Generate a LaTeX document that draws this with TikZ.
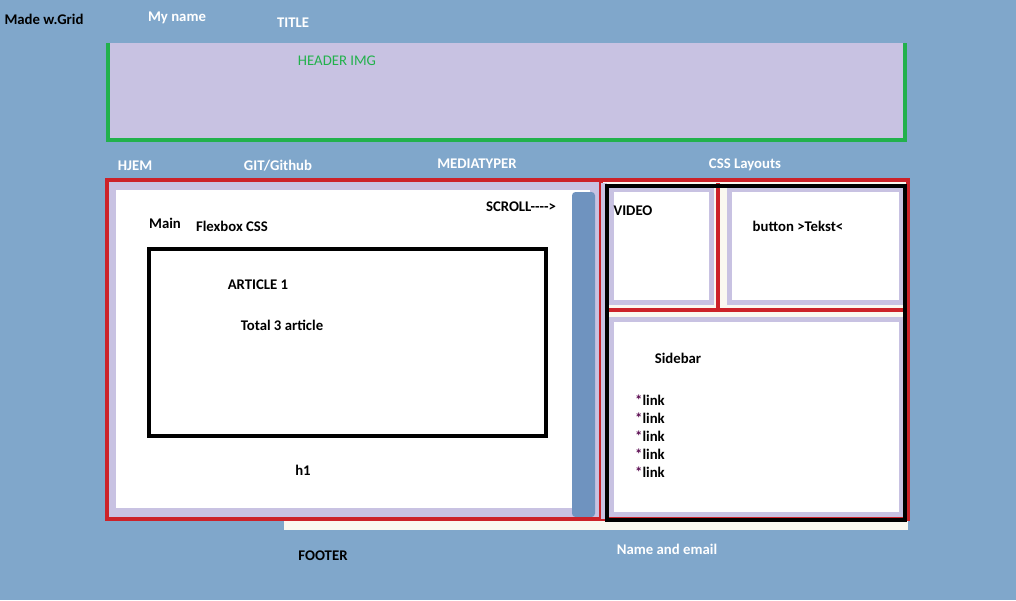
\documentclass[tikz,border=0pt]{standalone}
\usepackage{fontspec}
\setmainfont{Carlito}
\definecolor{pageblue}{RGB}{128,167,203}
\definecolor{lav}{RGB}{200,194,226}
\definecolor{hdrgreen}{RGB}{34,177,76}
\definecolor{mockred}{RGB}{204,34,41}
\definecolor{scrollblue}{RGB}{111,147,191}
\definecolor{offwhite}{RGB}{250,248,240}
\definecolor{starpurple}{RGB}{90,10,80}
\begin{document}
\begin{tikzpicture}[x=0.02cm, y=-0.02cm, font=\fontsize{8.4}{10}\selectfont\bfseries]
    \tikzset{txt/.style={inner sep=0pt},
             wtxt/.style={txt, text=white},
             pane/.style={fill=white, draw=lav, line width=2.8pt},
             redline/.style={draw=mockred, line width=2pt}}
    % page
    \fill[pageblue] (0,0) rectangle (1016,600);
    \node[txt] (made) at (44,19) {Made w.Grid};
    \node[wtxt] (myname) at (177,18) {My name};
    \node[wtxt] (title) at (293,23) {TITLE};
    % header
    \fill[lav] (108,43) rectangle (906,141);
    \draw[hdrgreen, line width=2.3pt] (108,43) -- (108,140) -- (905,140) -- (905,43);
    \node[txt, text=hdrgreen, font=\fontsize{8.4}{10}\selectfont] (hdrimg) at (337,61) {HEADER IMG};
    % menu
    \node[wtxt] (hjem) at (135,166) {HJEM};
    \node[wtxt] (git) at (278,166) {GIT/Github};
    \node[wtxt] (media) at (477,164) {MEDIATYPER};
    \node[wtxt] (csslay) at (745,165) {CSS Layouts};
    % content area
    \fill[offwhite] (284,180) rectangle (908,530);
    \fill[lav] (107,180) rectangle (601,519);
    \fill[white] (116,190) rectangle (590,508);
    \fill[scrollblue, rounded corners=2pt] (572,192) rectangle (595,517);
    \draw[redline] (107,180) rectangle (908,519);
    \draw[redline] (601,180) -- (601,519);
    % right column
    \fill[lav] (601,183) rectangle (607,519);
    \draw[pane] (611.5,189.5) rectangle (711.5,302.5);
    \draw[pane] (729.5,189.5) rectangle (901.5,302.5);
    \draw[pane] (611.5,319.5) rectangle (901.5,514.5);
    \draw[redline] (718,183) -- (718,310);
    \draw[redline] (606,310) -- (906,310);
    \draw[black, line width=2pt] (607,186) rectangle (905,520);
    % main texts
    \node[txt] (main) at (165,223) {Main};
    \node[txt] (flexbox) at (232,226) {Flexbox CSS};
    \node[txt] (scroll) at (521,207) {SCROLL{-}{-}{-}{-}>};
    % article
    \draw[black, line width=2pt] (149,249) rectangle (546,436);
    \node[txt] (art) at (258,285) {ARTICLE 1};
    \node[txt] (total) at (282,325) {Total 3 article};
    \node[txt] (hone) at (303,470) {h1};
    % video, button, sidebar
    \node[txt] (video) at (633,211) {VIDEO};
    \node[txt] (button) at (798,226) {button >Tekst<};
    \node[txt] (sidebar) at (678,358) {Sidebar};
    \foreach \y [count=\i] in {400,418,...,472}
      \node[txt] (link\i) at (650,\y) {{\color{starpurple}*}link};
    % footer
    \node[txt] (footer) at (323,556) {FOOTER};
    \node[wtxt] (contact) at (667,549) {Name and email};
\end{tikzpicture}
\end{document}
